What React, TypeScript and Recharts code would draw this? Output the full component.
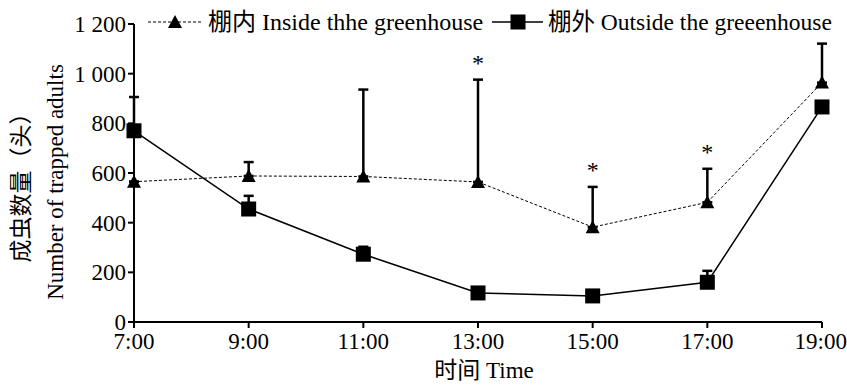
import {
  ComposedChart, Line, XAxis, YAxis, ErrorBar, LabelList,
} from 'recharts';

const times = [7, 9, 11, 13, 15, 17, 19];
const inside = [565, 588, 586, 564, 382, 482, 964];
const insideErr = [0, 56, 350, 412, 162, 135, 157];
const outside = [770, 455, 273, 117, 105, 160, 866];
const outsideErr = [136, 53, 30, 10, 10, 46, 10];
const significant = [false, false, false, true, true, true, false];
const yTicks = [0, 200, 400, 600, 800, 1000, 1200];

const insideName = '棚内 Inside thhe greenhouse';
const outsideName = '棚外 Outside the greeenhouse';

const FONT = '"Liberation Serif", "Noto Sans CJK SC", serif';

const data = times.map((t, i) => ({
  time: t,
  inside: inside[i],
  insideErr: [0, insideErr[i]],
  outside: outside[i],
  outsideErr: [0, outsideErr[i]],
  star: significant[i] ? inside[i] + insideErr[i] : null,
}));

const fmtY = (v: number) => (v >= 1000 ? `${Math.floor(v / 1000)} ${String(v % 1000).padStart(3, '0')}` : `${v}`);

function Triangle(props: any) {
  const { cx, cy } = props;
  if (cx == null || cy == null) return null;
  return <polygon points={`${cx},${cy - 7} ${cx - 7},${cy + 6} ${cx + 7},${cy + 6}`} fill="#000" />;
}

function Square(props: any) {
  const { cx, cy } = props;
  if (cx == null || cy == null) return null;
  return <rect x={cx - 7.5} y={cy - 7.5} width={15} height={15} fill="#000" />;
}

function Star(props: any) {
  const { x, y, value } = props;
  if (value == null) return null;
  return (
    <text x={x} y={y - 9} textAnchor="middle" fontFamily={FONT} fontSize={24} fill="#000">*</text>
  );
}

function LegendBox() {
  return (
    <svg width={847} height={45} style={{ position: 'absolute', left: 0, top: 0 }}>
      <line x1={148} y1={22} x2={203} y2={22} stroke="#000" strokeWidth={1} strokeDasharray="3 2" />
      <Triangle cx={175} cy={22} />
      <text x={208} y={30} fontFamily={FONT} fontSize={24} fill="#000">{insideName}</text>
      <line x1={492} y1={22} x2={543} y2={22} stroke="#000" strokeWidth={1.5} />
      <Square cx={518} cy={22} />
      <text x={548} y={30} fontFamily={FONT} fontSize={23.5} fill="#000">{outsideName}</text>
    </svg>
  );
}

export default function App() {
  return (
    <div style={{ position: 'relative', width: 847, height: 385, background: '#fff' }}>
      <style>{'body{margin:0}'}</style>
      <ComposedChart
        width={847}
        height={385}
        data={data}
        margin={{ top: 24, right: 25, bottom: 33, left: 0 }}
      >
        <XAxis
          dataKey="time"
          type="number"
          domain={[7, 19]}
          ticks={times}
          tickFormatter={(v) => `${v}:00`}
          stroke="#000"
          strokeWidth={2}
          tickSize={6}
          tickMargin={5}
          height={30}
          tick={{ fontFamily: FONT, fontSize: 23, fill: '#000' }}
        />
        <YAxis
          width={134}
          domain={[0, 1200]}
          ticks={yTicks}
          tickFormatter={fmtY}
          stroke="#000"
          strokeWidth={2}
          tickSize={6}
          tick={{ fontFamily: FONT, fontSize: 23, fill: '#000' }}
        />
        <Line
          dataKey="outside"
          stroke="#000"
          strokeWidth={1.5}
          isAnimationActive={false}
          dot={<Square />}
          activeDot={false}
        >
          <ErrorBar dataKey="outsideErr" direction="y" width={5} stroke="#000" strokeWidth={2.5} />
        </Line>
        <Line
          dataKey="inside"
          stroke="#000"
          strokeWidth={1}
          strokeDasharray="3 2"
          isAnimationActive={false}
          dot={<Triangle />}
          activeDot={false}
        >
          <ErrorBar dataKey="insideErr" direction="y" width={5} stroke="#000" strokeWidth={2.5} />
        </Line>
        <Line
          dataKey="star"
          stroke="none"
          dot={false}
          activeDot={false}
          isAnimationActive={false}
          legendType="none"
        >
          <LabelList dataKey="star" content={<Star />} />
        </Line>
      </ComposedChart>
      <LegendBox />
      <div
        style={{
          position: 'absolute', left: 484, top: 371, transform: 'translate(-50%, -50%)',
          fontFamily: FONT, fontSize: 23, lineHeight: '24px', whiteSpace: 'nowrap', color: '#000',
        }}
      >
        时间 Time
      </div>
      <div
        style={{
          position: 'absolute', left: 39, top: 182, transform: 'translate(-50%, -50%) rotate(-90deg)',
          fontFamily: FONT, fontSize: 23, lineHeight: '34px', textAlign: 'center', whiteSpace: 'nowrap', color: '#000',
        }}
      >
        <div>成虫数量（头）</div>
        <div>Number of trapped adults</div>
      </div>
    </div>
  );
}
